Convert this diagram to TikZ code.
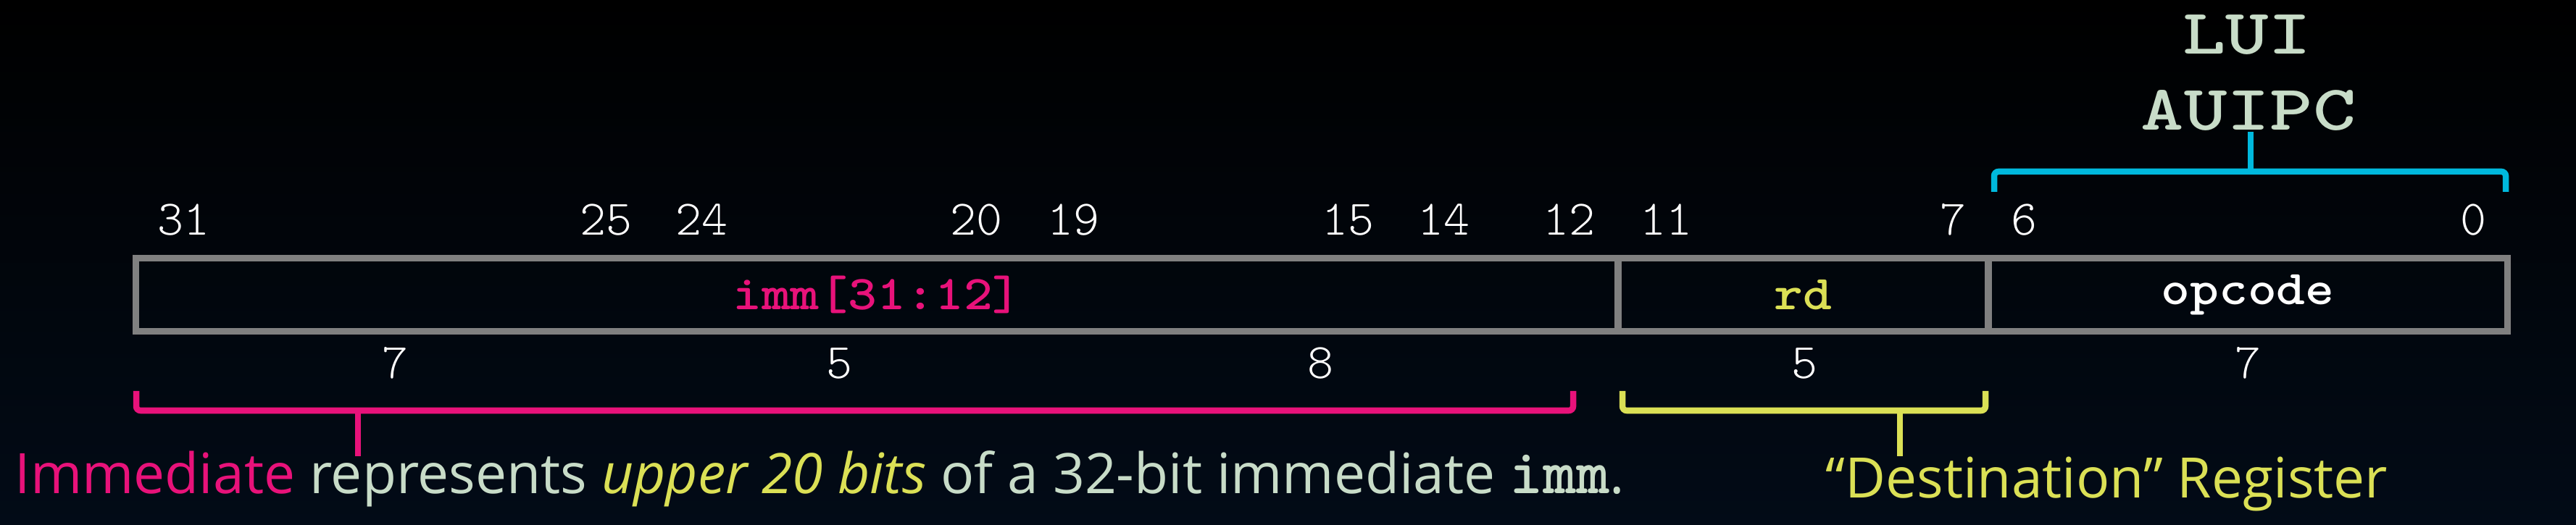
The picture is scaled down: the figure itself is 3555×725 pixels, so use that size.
\documentclass[tikz,border=0pt]{standalone}
\usepackage{fontspec}
\usepackage{graphicx}
\setmainfont{Open Sans}
\definecolor{pinkc}{HTML}{E8127A}
\definecolor{yellowc}{HTML}{DBE055}
\definecolor{greenc}{HTML}{C8DCC8}
\definecolor{bluec}{HTML}{00B9DD}
\definecolor{boxgray}{HTML}{808080}
\definecolor{bgb}{RGB}{2,11,23}
\newcommand\flab[2]{\textcolor{#1}{\scalebox{1.13}[1]{\ttfamily\bfseries\fontsize{19.1}{20}\selectfont #2}}}
\begin{document}
\begin{tikzpicture}[x=0.01cm,y=-0.01cm,
  field/.style={draw=boxgray, line width=0.09cm, minimum height=1.01cm, inner sep=0},
  tnum/.style={text=white, font=\ttfamily\fontseries{l}\fontsize{19.5}{20}\selectfont, anchor=base, inner sep=0},
  brk/.style={line width=0.085cm, rounded corners=0.06cm},
  tick/.style={line width=0.075cm},
  capt/.style={anchor=base west, inner sep=0, font=\fontsize{21.9}{26}\selectfont}]
\useasboundingbox (0,0) rectangle (3555,725);
\shade[top color=black, middle color=black, bottom color=bgb] (0,0) rectangle (3555,725);
% fields
\node[field, minimum width=20.45cm] (imm) at (1210.5,407) {\flab{pinkc}{imm[31:12]}};
\node[field, minimum width=5.11cm] (rd) at (2488.5,407) {\flab{yellowc}{rd}};
\node[field, minimum width=7.16cm] (opc) at (3102,407) {\flab{white}{opcode}};
% bit positions
\node[tnum] (b31) at (253,325) {31};
\node[tnum] (b25) at (836,325) {25};
\node[tnum] (b24) at (968,325) {24};
\node[tnum] (b20) at (1347,325) {20};
\node[tnum] (b19) at (1481,325) {19};
\node[tnum] (b15) at (1860,325) {15};
\node[tnum] (b14) at (1992,325) {14};
\node[tnum] (b12) at (2165,325) {12};
\node[tnum] (b11) at (2299,325) {11};
\node[tnum] (b7) at (2695,325) {7};
\node[tnum] (b6) at (2793,325) {6};
\node[tnum] (b0) at (3413,325) {0};
% widths
\node[tnum] (w1) at (545,523) {7};
\node[tnum] (w2) at (1158,523) {5};
\node[tnum] (w3) at (1822,523) {8};
\node[tnum] (w4) at (2490,523) {5};
\node[tnum] (w5) at (3102,523) {7};
% instruction names
\node[anchor=base, inner sep=0, text=greenc] (lui) at (3101,75) {\scalebox{1.28}[1]{\ttfamily\bfseries\fontsize{25.1}{26}\selectfont LUI}};
\node[anchor=base, inner sep=0, text=greenc] (auipc) at (3103,180) {\scalebox{1.28}[1]{\ttfamily\bfseries\fontsize{25.1}{26}\selectfont AUIPC}};
% captions
\node[capt] (cap) at (20,682) {\resizebox{22.2cm}{\height}{\textcolor{pinkc}{Immediate}\textcolor{greenc}{\ represents \textcolor{yellowc}{\itshape upper 20 bits} of a 32-bit immediate {\ttfamily\bfseries\fontsize{25}{26}\selectfont imm}.}}};
\node[capt] (dest) at (2519,688) {\resizebox{7.75cm}{\height}{\textcolor{yellowc}{“Destination” Register}}};
% brackets
\coordinate (pl) at (188,540); \coordinate (pr) at (2171,540);
\coordinate (pm) at (494,567); \coordinate (pe) at (494,630);
\draw[brk, pinkc] (pl) -- (188,567) -- (2171,567) -- (pr);
\draw[tick, pinkc] (pm) -- (pe);
\coordinate (yl) at (2239,540); \coordinate (yr) at (2740,540);
\coordinate (ym) at (2622,567); \coordinate (ye) at (2622,630);
\draw[brk, yellowc] (yl) -- (2239,567) -- (2740,567) -- (yr);
\draw[tick, yellowc] (ym) -- (ye);
\coordinate (bl) at (2752,265); \coordinate (br) at (3458,265);
\coordinate (bm) at (3106,237);
\draw[brk, bluec] (bl) -- (2752,237) -- (3458,237) -- (br);
\draw[tick, bluec] (bm) -- (bm |- auipc.south);
\end{tikzpicture}
\end{document}
